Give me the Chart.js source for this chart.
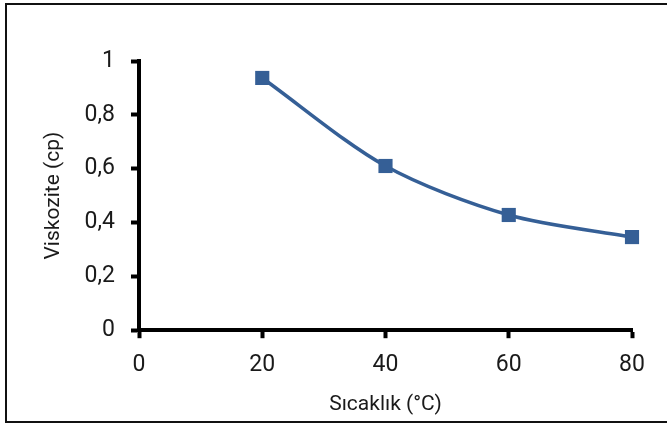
<!DOCTYPE html>
<html>
<head>
<meta charset="utf-8">
<script src="https://cdn.jsdelivr.net/npm/chart.js@4/dist/chart.umd.min.js"></script>
<style>
  html, body { margin: 0; padding: 0; background: #fff; }
  #wrap { position: relative; width: 667px; height: 426px; overflow: hidden; }
  #frame {
    position: absolute; left: 5px; top: 3px; width: 680px; height: 416px;
    border: 2px solid #111; pointer-events: none;
  }
  canvas { position: absolute; left: 0; top: 0; }
</style>
</head>
<body>
<div id="wrap">
  <canvas id="chart" width="667" height="426"></canvas>
  <div id="frame"></div>
</div>
<script>
// --- Datos ---
const temps = [20, 40, 60, 80];
const viscosity = [0.937, 0.61, 0.428, 0.346];
const xTicks = [0, 20, 40, 60, 80];
const yTicks = [0, 0.2, 0.4, 0.6, 0.8, 1];

const fontFamily = 'Roboto, "DejaVu Sans", sans-serif';
const textColor = '#1a1a1a';
const lineColor = '#355F96';

new Chart(document.getElementById('chart'), {
  type: 'line',
  data: {
    datasets: [{
      data: temps.map((t, i) => ({ x: t, y: viscosity[i] })),
      borderColor: lineColor,
      backgroundColor: lineColor,
      borderWidth: 3.5,
      tension: 0.3,
      pointStyle: 'rect',
      pointRadius: 10,
      pointBorderWidth: 0,
      clip: false
    }]
  },
  options: {
    responsive: false,
    animation: false,
    layout: { padding: { left: 37, right: 35, top: 61, bottom: 9 } },
    plugins: { legend: { display: false }, tooltip: { enabled: false } },
    scales: {
      x: {
        type: 'linear',
        min: xTicks[0],
        max: xTicks[xTicks.length - 1],
        afterBuildTicks: axis => { axis.ticks = xTicks.map(v => ({ value: v })); },
        border: { color: '#000', width: 4 },
        grid: { drawOnChartArea: false, drawTicks: true, tickLength: 8, tickWidth: 4, tickColor: '#000' },
        ticks: { color: textColor, font: { family: fontFamily, size: 23 }, padding: 13, maxRotation: 0 },
        title: { display: true, text: 'Sıcaklık (°C)', color: textColor, font: { family: fontFamily, size: 21 }, padding: { top: 0, bottom: 0 } }
      },
      y: {
        min: 0,
        max: 1,
        afterBuildTicks: axis => { axis.ticks = yTicks.map(v => ({ value: v })); },
        afterFit: axis => { axis.width = 102; },
        border: { color: '#000', width: 4 },
        grid: { drawOnChartArea: false, drawTicks: true, tickLength: 8, tickWidth: 4, tickColor: '#000' },
        ticks: {
          color: textColor,
          font: { family: fontFamily, size: 23 },
          padding: 16,
          callback: v => String(Math.round(v * 10) / 10).replace('.', ',')
        },
        title: { display: true, text: 'Viskozite (cp)', color: textColor, font: { family: fontFamily, size: 21 }, padding: { top: 4, bottom: 0 } }
      }
    }
  }
});
</script>
</body>
</html>
